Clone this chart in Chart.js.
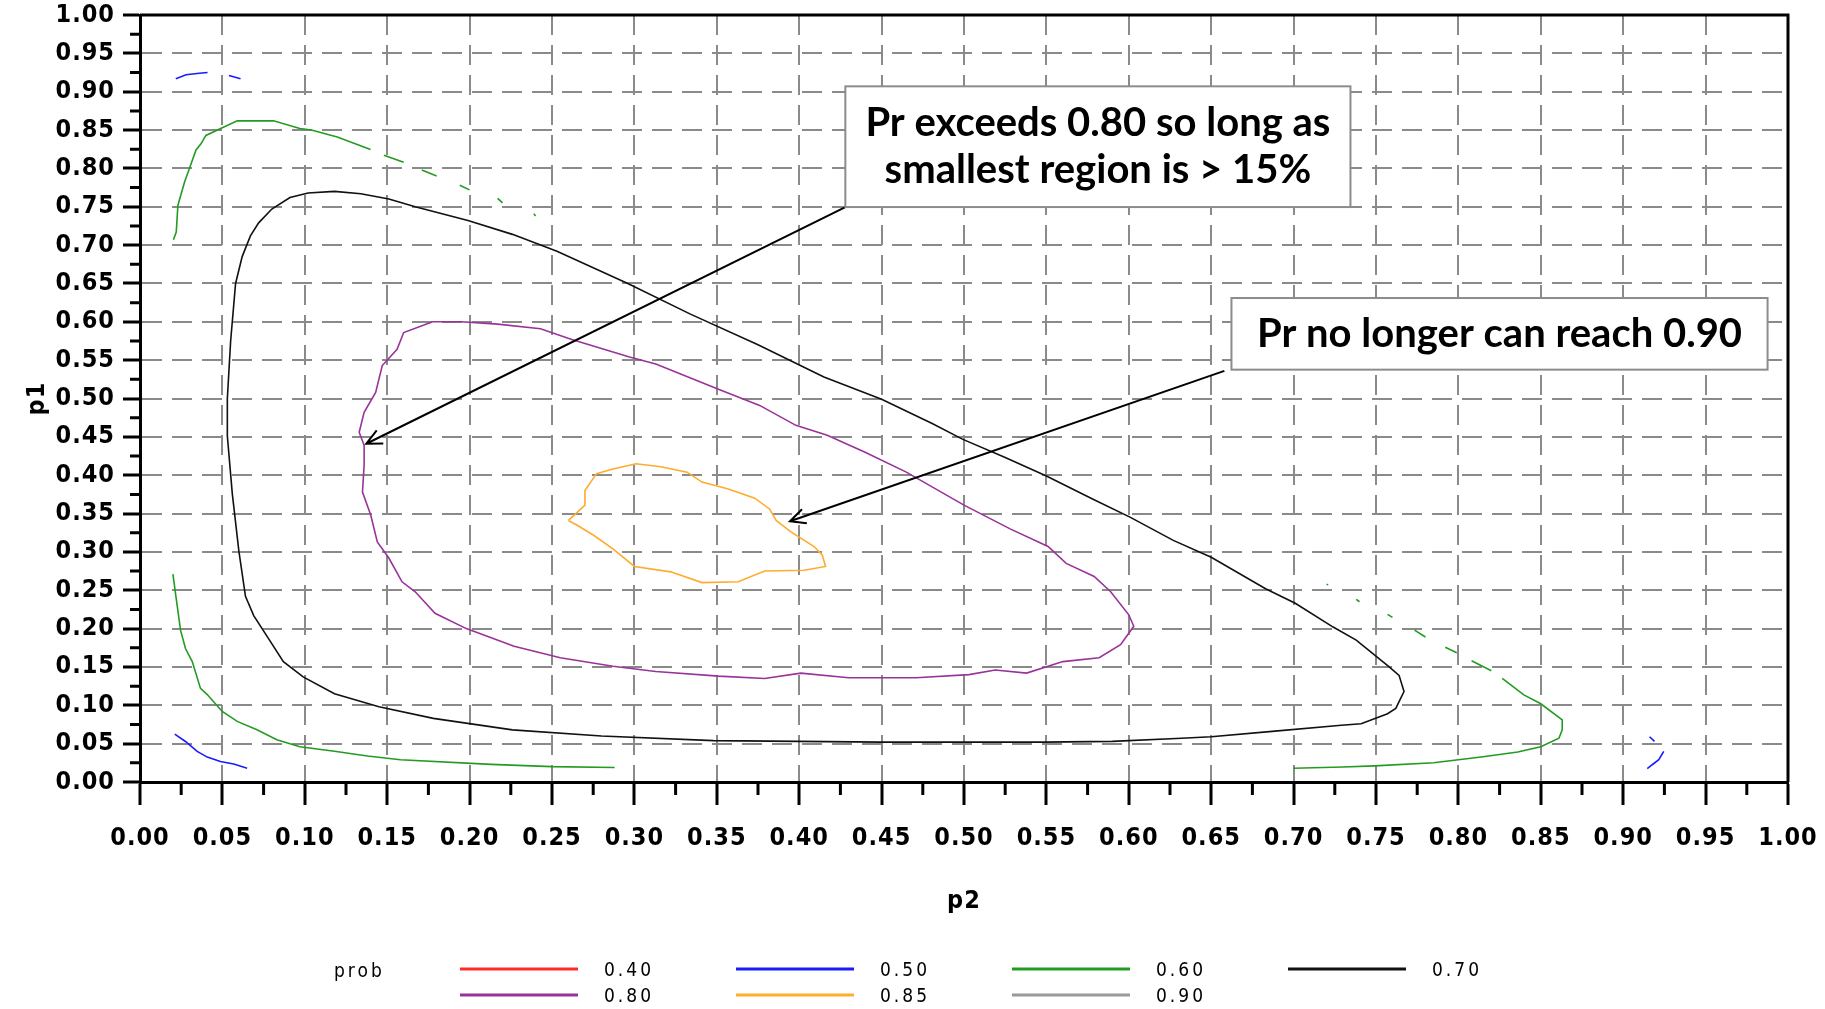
<!DOCTYPE html>
<html>
<head>
<meta charset="utf-8">
<script src="https://cdn.jsdelivr.net/npm/chart.js@4/dist/chart.umd.min.js"></script>
<style>
  html, body { margin: 0; padding: 0; background: #fff; }
  canvas { display: block; }
</style>
</head>
<body>
<canvas id="chartCanvas" width="1825" height="1009"></canvas>
<script>
// contour levels of prob, in legend order
const levels = ['0.40', '0.50', '0.60', '0.70', '0.80', '0.85', '0.90'];
const levelColors = ['#ff2a2a', '#1a1aff', '#239b23', '#111111', '#993399', '#ffab2e', '#9a9a9a'];
const legendTitle = 'prob';

// each contour is a list of [p2, p1] points, null = break in the line
const level40 = [];
const level50 = [
	[0.0217, 0.917], [0.028, 0.922], [0.036, 0.924], [0.041, 0.925], null,
	[0.054, 0.921], [0.061, 0.917], null,
	[0.0211, 0.0624], [0.0276, 0.0528], [0.0347, 0.040], [0.0408, 0.0325], [0.0488, 0.0268], [0.0569, 0.0234], [0.065, 0.018], null,
	[0.916, 0.059], [0.919, 0.053], null,
	[0.9246, 0.040], [0.9216, 0.029], [0.9176, 0.0225], [0.9146, 0.0173]
];
const level60 = [
	[0.0203, 0.707], [0.022, 0.717], [0.023, 0.752], [0.025, 0.767], [0.027, 0.782], [0.031, 0.806], [0.034, 0.824],
	[0.037, 0.832], [0.040, 0.843], [0.047, 0.850], [0.059, 0.862], [0.081, 0.862], [0.097, 0.852], [0.104, 0.850],
	[0.1197, 0.841], [0.1399, 0.8245], null,
	[0.148, 0.817], [0.160, 0.808], null,
	[0.171, 0.798], [0.180, 0.790], null,
	[0.194, 0.778], [0.200, 0.772], null,
	[0.217, 0.761], [0.220, 0.755], null,
	[0.239, 0.741], [0.240, 0.738], null,
	[0.020, 0.271], [0.0216, 0.245], [0.0246, 0.198], [0.0276, 0.174], [0.0317, 0.157], [0.0367, 0.122], [0.0408, 0.114],
	[0.0499, 0.092], [0.059, 0.079], [0.071, 0.068], [0.083, 0.055], [0.097, 0.046], [0.118, 0.040], [0.138, 0.034],
	[0.158, 0.029], [0.213, 0.023], [0.250, 0.020], [0.288, 0.019], null,
	[0.720, 0.258], [0.721, 0.257], null,
	[0.738, 0.238], [0.740, 0.235], null,
	[0.757, 0.2185], [0.760, 0.2146], null,
	[0.7734, 0.198], [0.780, 0.189], null,
	[0.792, 0.1756], [0.799, 0.1686], null,
	[0.808, 0.158], [0.820, 0.145], null,
	[0.8266, 0.135], [0.8397, 0.1136], [0.850, 0.102], [0.863, 0.081], [0.863, 0.068], [0.861, 0.057], [0.850, 0.046],
	[0.836, 0.039], [0.815, 0.033], [0.785, 0.025], [0.749, 0.021], [0.730, 0.0195], [0.6998, 0.018]
];
const level70 = [
	[0.118, 0.770], [0.134, 0.767], [0.151, 0.760], [0.167, 0.750], [0.199, 0.732], [0.226, 0.714], [0.253, 0.692],
	[0.296, 0.650], [0.334, 0.610], [0.375, 0.570], [0.415, 0.528], [0.450, 0.499], [0.481, 0.467], [0.499, 0.447],
	[0.525, 0.423], [0.550, 0.399], [0.578, 0.369], [0.601, 0.345], [0.627, 0.315], [0.650, 0.293], [0.683, 0.252],
	[0.701, 0.233], [0.724, 0.202], [0.738, 0.185], [0.758, 0.150], [0.764, 0.139], [0.767, 0.118], [0.762, 0.096],
	[0.757, 0.089], [0.741, 0.076], [0.729, 0.074], [0.687, 0.066], [0.650, 0.059], [0.632, 0.057], [0.590, 0.053],
	[0.548, 0.052], [0.502, 0.052], [0.450, 0.052], [0.400, 0.053], [0.348, 0.054], [0.280, 0.060], [0.226, 0.068],
	[0.178, 0.083], [0.145, 0.098], [0.118, 0.115], [0.099, 0.137], [0.087, 0.157], [0.078, 0.187], [0.069, 0.217],
	[0.064, 0.242], [0.060, 0.301], [0.056, 0.376], [0.053, 0.451], [0.053, 0.500], [0.055, 0.575], [0.058, 0.650],
	[0.062, 0.685], [0.067, 0.712], [0.072, 0.729], [0.080, 0.747], [0.091, 0.762], [0.102, 0.768], [0.118, 0.770]
];
const level80 = [
	[0.1776, 0.600], [0.160, 0.586], [0.156, 0.564], [0.147, 0.543], [0.143, 0.508], [0.136, 0.482], [0.133, 0.456],
	[0.136, 0.439], [0.136, 0.413], [0.135, 0.378], [0.140, 0.348], [0.144, 0.313], [0.151, 0.292], [0.159, 0.261],
	[0.167, 0.248], [0.179, 0.220], [0.198, 0.200], [0.227, 0.177], [0.255, 0.162], [0.287, 0.151], [0.313, 0.144],
	[0.351, 0.138], [0.379, 0.135], [0.401, 0.142], [0.430, 0.136], [0.471, 0.136], [0.503, 0.140], [0.519, 0.146],
	[0.538, 0.142], [0.560, 0.157], [0.582, 0.162], [0.595, 0.179], [0.603, 0.203], [0.600, 0.218], [0.589, 0.248],
	[0.579, 0.268], [0.562, 0.285], [0.551, 0.307], [0.528, 0.330], [0.500, 0.361], [0.465, 0.404], [0.440, 0.430],
	[0.417, 0.452], [0.398, 0.465], [0.376, 0.491], [0.351, 0.512], [0.313, 0.545], [0.297, 0.554], [0.262, 0.577],
	[0.243, 0.591], [0.217, 0.597], [0.195, 0.600], [0.1776, 0.600]
];
const level85 = [
	[0.260, 0.341], [0.270, 0.361], [0.270, 0.380], [0.277, 0.402], [0.287, 0.408], [0.301, 0.415], [0.316, 0.411],
	[0.332, 0.404], [0.341, 0.391], [0.357, 0.382], [0.373, 0.370], [0.382, 0.356], [0.386, 0.341], [0.395, 0.326],
	[0.409, 0.307], [0.414, 0.296], [0.416, 0.281], [0.403, 0.276], [0.379, 0.275], [0.363, 0.261], [0.341, 0.260],
	[0.322, 0.274], [0.300, 0.281], [0.287, 0.304], [0.275, 0.322], [0.265, 0.335], [0.260, 0.341]
];
const level90 = [];
const contours = [level40, level50, level60, level70, level80, level85, level90];

// annotation boxes: text lines, box corners [x1, y1, x2, y2] and arrow [fromX, fromY, toX, toY] in data units
const note1Text = ['Pr exceeds 0.80 so long as', 'smallest region is > 15%'];
const note1Box = [0.428, 0.907, 0.7345, 0.7496];
const note1Arrow = [0.428, 0.7496, 0.1373, 0.441];
const note2Text = ['Pr no longer can reach 0.90'];
const note2Box = [0.6623, 0.631, 0.9876, 0.5376];
const note2Arrow = [0.658, 0.536, 0.3944, 0.340];

const TICK_FONT = '"DejaVu Sans Condensed", "Liberation Sans", sans-serif';

function toPoints(list) {
	return list.map(p => p ? {x: p[0], y: p[1]} : {x: null, y: null});
}

function dataset(label, color, pts) {
	return {
		label: label,
		data: toPoints(pts),
		showLine: true,
		spanGaps: false,
		borderColor: color,
		backgroundColor: color,
		borderWidth: 1.6,
		pointRadius: 0,
		tension: 0
	};
}

function drawArrow(ctx, x1, y1, x2, y2) {
	const ang = Math.atan2(y2 - y1, x2 - x1);
	const len = 17, spread = 0.45;
	ctx.beginPath();
	ctx.moveTo(x1, y1);
	ctx.lineTo(x2, y2);
	ctx.moveTo(x2 - len * Math.cos(ang - spread), y2 - len * Math.sin(ang - spread));
	ctx.lineTo(x2, y2);
	ctx.lineTo(x2 - len * Math.cos(ang + spread), y2 - len * Math.sin(ang + spread));
	ctx.stroke();
}

const extrasPlugin = {
	id: 'extras',
	beforeDraw(chart) {
		chart.ctx.letterSpacing = '1px'; // spaced axis digits
	},
	beforeDatasetsDraw(chart) {
		chart.ctx.letterSpacing = '0px';
	},
	afterDraw(chart) {
		const ctx = chart.ctx;
		const xs = chart.scales.x, ys = chart.scales.y;
		const area = chart.chartArea;
		ctx.save();
		ctx.letterSpacing = '0px';

		// frame top and right
		ctx.strokeStyle = '#000';
		ctx.lineWidth = 3;
		ctx.beginPath();
		ctx.moveTo(area.left, area.top);
		ctx.lineTo(area.right, area.top);
		ctx.lineTo(area.right, area.bottom);
		ctx.stroke();

		// minor ticks
		ctx.lineWidth = 3;
		for (let k = 0; k < 20; k++) {
			const v = 0.025 + k * 0.05;
			const px = xs.getPixelForValue(v);
			const py = ys.getPixelForValue(v);
			ctx.beginPath();
			ctx.moveTo(px, area.bottom);
			ctx.lineTo(px, area.bottom + 13);
			ctx.moveTo(area.left - 10, py);
			ctx.lineTo(area.left, py);
			ctx.stroke();
		}

		// notes with arrows
		const notes = [[note1Text, note1Box, note1Arrow], [note2Text, note2Box, note2Arrow]];
		notes.forEach(([text, box, arrow]) => {
			ctx.strokeStyle = '#000';
			ctx.lineWidth = 2;
			drawArrow(ctx, xs.getPixelForValue(arrow[0]), ys.getPixelForValue(arrow[1]),
				xs.getPixelForValue(arrow[2]), ys.getPixelForValue(arrow[3]));
			const bx1 = xs.getPixelForValue(box[0]), by1 = ys.getPixelForValue(box[1]);
			const bx2 = xs.getPixelForValue(box[2]), by2 = ys.getPixelForValue(box[3]);
			ctx.fillStyle = '#fff';
			ctx.fillRect(bx1, by1, bx2 - bx1, by2 - by1);
			ctx.strokeStyle = '#8c8c8c';
			ctx.lineWidth = 2;
			ctx.strokeRect(bx1, by1, bx2 - bx1, by2 - by1);
			ctx.fillStyle = '#000';
			ctx.font = 'bold 40px Lato, "Open Sans", sans-serif';
			ctx.textAlign = 'center';
			ctx.textBaseline = 'middle';
			const cx = (bx1 + bx2) / 2, cy = (by1 + by2) / 2;
			const lh = 47;
			text.forEach((t, i) => {
				ctx.fillText(t, cx, cy + (i - (text.length - 1) / 2) * lh);
			});
		});

		// legend, two rows of four
		ctx.font = '19px ' + TICK_FONT;
		ctx.letterSpacing = '3px';
		ctx.textAlign = 'left';
		ctx.textBaseline = 'middle';
		ctx.fillStyle = '#000';
		ctx.fillText(legendTitle, 334, 972);
		chart.data.datasets.forEach((ds, i) => {
			const col = i % 4, row = Math.floor(i / 4);
			const x = 460 + col * 276, y = 969 + row * 26;
			ctx.strokeStyle = ds.borderColor;
			ctx.lineWidth = 3;
			ctx.beginPath();
			ctx.moveTo(x, y);
			ctx.lineTo(x + 118, y);
			ctx.stroke();
			ctx.fillText(ds.label, x + 144, y + 2);
		});
		ctx.restore();
	}
};

function axis(title, tickLen, tickPad, titlePad) {
	return {
		type: 'linear',
		min: 0,
		max: 1,
		ticks: {
			stepSize: 0.05,
			autoSkip: false,
			maxRotation: 0,
			color: '#000',
			padding: tickPad,
			font: {family: TICK_FONT, size: 25, weight: 'bold'},
			callback: v => v.toFixed(2)
		},
		grid: {
			color: '#8a8a8a',
			lineWidth: 2,
			tickColor: '#000',
			tickWidth: 3,
			tickLength: tickLen
		},
		border: {color: '#000', width: 3, dash: [20, 10]},
		title: {
			display: true,
			text: title,
			color: '#000',
			font: {family: TICK_FONT, size: 25, weight: 'bold'},
			padding: titlePad
		}
	};
}

window.onload = function() {
	const xAxis = axis('p2', 23, 18, {top: 0, bottom: 93});
	xAxis.afterFit = s => { s.height = 227; s.paddingLeft = 0; s.paddingRight = 0; };
	const yAxis = axis('p1', 17, 8, {top: 22, bottom: 0});
	yAxis.afterFit = s => { s.width = 140; s.paddingTop = 0; s.paddingBottom = 0; };

	const ctx = document.getElementById('chartCanvas');
	window.myChart = new Chart(ctx, {
		type: 'scatter',
		data: {
			datasets: levels.map((lv, i) => dataset(lv, levelColors[i], contours[i]))
		},
		options: {
			responsive: false,
			animation: false,
			devicePixelRatio: 1,
			layout: {padding: {left: 0, top: 15, right: 37, bottom: 0}},
			plugins: {
				legend: {display: false},
				tooltip: {enabled: false}
			},
			scales: {x: xAxis, y: yAxis}
		},
		plugins: [extrasPlugin]
	});
};
</script>
</body>
</html>
